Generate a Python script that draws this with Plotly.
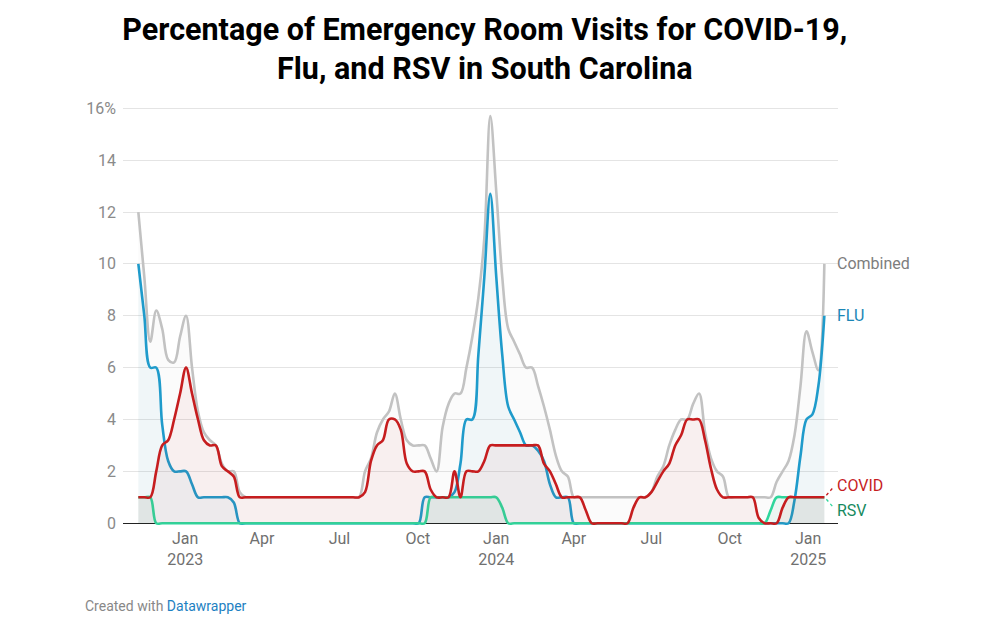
import plotly.graph_objects as go
import pandas as pd

# ---- data (weekly) ----
start_date = "2022-11-07"
n_weeks = 116

flu = [
    10, 8, 6, 6, 3.8, 2.4, 2, 2, 2, 1.5,
    1, 1, 1, 1, 1, 1, 0.8, 0, 0, 0,
    0, 0, 0, 0, 0, 0, 0, 0, 0, 0,
    0, 0, 0, 0, 0, 0, 0, 0, 0, 0,
    0, 0, 0, 0, 0, 0, 0, 0, 1, 1,
    1, 1, 1, 1.2, 2.3, 4, 4, 6.5, 9.5, 12.7,
    9.5, 6.5, 4.5, 4, 3.5, 3, 3, 2.8, 2.4, 1.5,
    1, 1, 1, 0, 0, 0, 0, 0, 0, 0,
    0, 0, 0, 0, 0, 0, 0, 0, 0, 0,
    0, 0, 0, 0, 0, 0, 0, 0, 0, 0,
    0, 0, 0, 0, 0, 0, 0, 0, 0, 0,
    0.9, 2.6, 4, 4.2, 5.3, 8,
]

covid = [
    1, 1, 1, 2, 3, 3.2, 4, 5, 6, 5,
    4, 3.2, 3, 3, 2.2, 2, 1.8, 1, 1, 1,
    1, 1, 1, 1, 1, 1, 1, 1, 1, 1,
    1, 1, 1, 1, 1, 1, 1, 1, 1.2, 2.4,
    3, 3.2, 4, 4, 3.6, 2.3, 2, 2, 2, 1.3,
    1, 1, 1, 2, 1, 2, 2, 2, 2.4, 3,
    3, 3, 3, 3, 3, 3, 3, 3, 2.3, 2,
    1.5, 1, 1, 1, 1, 0.5, 0, 0, 0, 0,
    0, 0, 0, 0.6, 1, 1, 1.2, 1.6, 2, 2.3,
    3, 3.4, 4, 4, 4, 3.2, 2.1, 1.3, 1, 1,
    1, 1, 1, 1, 0.2, 0, 0, 0, 0.6, 1,
    1, 1, 1, 1, 1, 1,
]

rsv = [
    1, 1, 1, 0, 0, 0, 0, 0, 0, 0,
    0, 0, 0, 0, 0, 0, 0, 0, 0, 0,
    0, 0, 0, 0, 0, 0, 0, 0, 0, 0,
    0, 0, 0, 0, 0, 0, 0, 0, 0, 0,
    0, 0, 0, 0, 0, 0, 0, 0, 0, 1,
    1, 1, 1, 1, 1, 1, 1, 1, 1, 1,
    1, 0.6, 0, 0, 0, 0, 0, 0, 0, 0,
    0, 0, 0, 0, 0, 0, 0, 0, 0, 0,
    0, 0, 0, 0, 0, 0, 0, 0, 0, 0,
    0, 0, 0, 0, 0, 0, 0, 0, 0, 0,
    0, 0, 0, 0, 0, 0, 0.5, 1, 1, 1,
    1, 1, 1, 1, 1, 1,
]

combined = [
    12, 9.5, 7, 8.2, 7.5, 6.3, 6.2, 7.2, 8, 6,
    4.3, 3.5, 3.2, 3, 2.3, 2, 2, 1.2, 1, 1,
    1, 1, 1, 1, 1, 1, 1, 1, 1, 1,
    1, 1, 1, 1, 1, 1, 1, 1, 2, 2.5,
    3.5, 4, 4.3, 5, 4, 3.2, 3, 3, 3, 2.5,
    2, 3.7, 4.6, 5, 5, 6, 7.2, 8.7, 11, 15.7,
    12.8, 9.5, 7.5, 7, 6.5, 6, 6, 5.3, 4.5, 3.6,
    2.6, 2, 1.8, 1, 1, 1, 1, 1, 1, 1,
    1, 1, 1, 1, 1, 1, 1.2, 1.8, 2.2, 3,
    3.6, 4, 4, 4.6, 5, 3.5, 2.5, 2, 1.8, 1,
    1, 1, 1, 1, 1, 1, 1, 1.6, 2, 2.4,
    3.4, 5.3, 7.4, 6.6, 5.9, 10,
]

y_tick_vals = [0, 2, 4, 6, 8, 10, 12, 14, 16]
y_tick_text = ["0", "2", "4", "6", "8", "10", "12", "14", "16%"]
x_tick_vals = ["2023-01-01", "2023-04-01", "2023-07-01", "2023-10-01",
               "2024-01-01", "2024-04-01", "2024-07-01", "2024-10-01",
               "2025-01-01"]
x_tick_text = ["Jan<br>2023", "Apr", "Jul", "Oct",
               "Jan<br>2024", "Apr", "Jul", "Oct", "Jan<br>2025"]

dates = pd.date_range(start_date, periods=n_weeks, freq="7D")

series = [
    ("Combined", combined, "#c2c2c2", "rgba(160,160,160,0.045)"),
    ("FLU", flu, "#1f9bcb", "rgba(31,155,203,0.05)"),
    ("RSV", rsv, "#2fd69c", "rgba(40,180,140,0.07)"),
    ("COVID", covid, "#c61d1f", "rgba(198,29,31,0.055)"),
]

fig = go.Figure()
for name, vals, col, fillcol in series:
    fig.add_trace(go.Scatter(
        x=dates, y=vals, name=name, mode="lines",
        line=dict(color=col, width=2.6, shape="spline", smoothing=1.0),
        fill="tozeroy", fillcolor=fillcol, hoverinfo="skip",
    ))

last_x = dates[-1]
label_font = "Roboto, Arial, sans-serif"
annotations = [
    dict(x=last_x, y=combined[-1], text="Combined", xanchor="left", yanchor="middle",
         xshift=11, showarrow=False, font=dict(family=label_font, size=16, color="#7d7d7d")),
    dict(x=last_x, y=flu[-1], text="FLU", xanchor="left", yanchor="middle",
         xshift=11, showarrow=False, font=dict(family=label_font, size=16, color="#1b86b6")),
    dict(x=last_x, y=covid[-1], text="COVID", xanchor="left", yanchor="middle",
         xshift=11, yshift=12, showarrow=False, font=dict(family=label_font, size=16, color="#c61d1f")),
    dict(x=last_x, y=rsv[-1], text="RSV", xanchor="left", yanchor="middle",
         xshift=11, yshift=-13, showarrow=False, font=dict(family=label_font, size=16, color="#168a60")),
    dict(xref="paper", yref="paper", x=-0.056, y=-0.178, xanchor="left", yanchor="middle",
         text="<span style='color:#888888'>Created with </span><span style='color:#1d81c2'>Datawrapper</span>",
         showarrow=False, font=dict(family=label_font, size=14)),
]

shapes = [
    dict(type="line", xref="x", yref="y", xsizemode="pixel", ysizemode="pixel",
         xanchor=last_x, yanchor=covid[-1], x0=2, x1=9, y0=2, y1=10,
         line=dict(color="#c61d1f", width=1.3, dash="dot")),
    dict(type="line", xref="x", yref="y", xsizemode="pixel", ysizemode="pixel",
         xanchor=last_x, yanchor=rsv[-1], x0=2, x1=9, y0=-2, y1=-10,
         line=dict(color="#2fd69c", width=1.3, dash="dot")),
]

fig.update_layout(
    width=1000, height=631,
    paper_bgcolor="white", plot_bgcolor="white",
    margin=dict(l=123, r=162, t=107, b=100),
    showlegend=False,
    title=dict(
        text="<b>Percentage of Emergency Room Visits for COVID-19,<br>Flu, and RSV in South Carolina</b>",
        x=0.506, xanchor="center", xref="paper", y=0.937, yanchor="top", yref="container",
        font=dict(family="Roboto, Arial, sans-serif", size=30.5, color="#000000"),
    ),
    xaxis=dict(
        type="date", range=["2022-10-20", "2025-02-05"],
        tickvals=x_tick_vals, ticktext=x_tick_text,
        showgrid=False, zeroline=False, showline=False, ticks="",
        ticklabelstandoff=-4,
        tickfont=dict(family=label_font, size=16, color="#707070"),
    ),
    yaxis=dict(
        range=[-0.3, 16.05], tickvals=y_tick_vals, ticktext=y_tick_text,
        showgrid=True, gridcolor="#e4e4e4", gridwidth=1,
        zeroline=True, zerolinecolor="#222222", zerolinewidth=1.2,
        showline=False, ticks="", ticklabelstandoff=6,
        tickfont=dict(family=label_font, size=16, color="#8a8a8a"),
    ),
    annotations=annotations,
    shapes=shapes,
)

fig.write_html("out.html", config={"displayModeBar": False},
               post_script="document.body.style.margin='0';document.body.style.overflow='hidden';")
